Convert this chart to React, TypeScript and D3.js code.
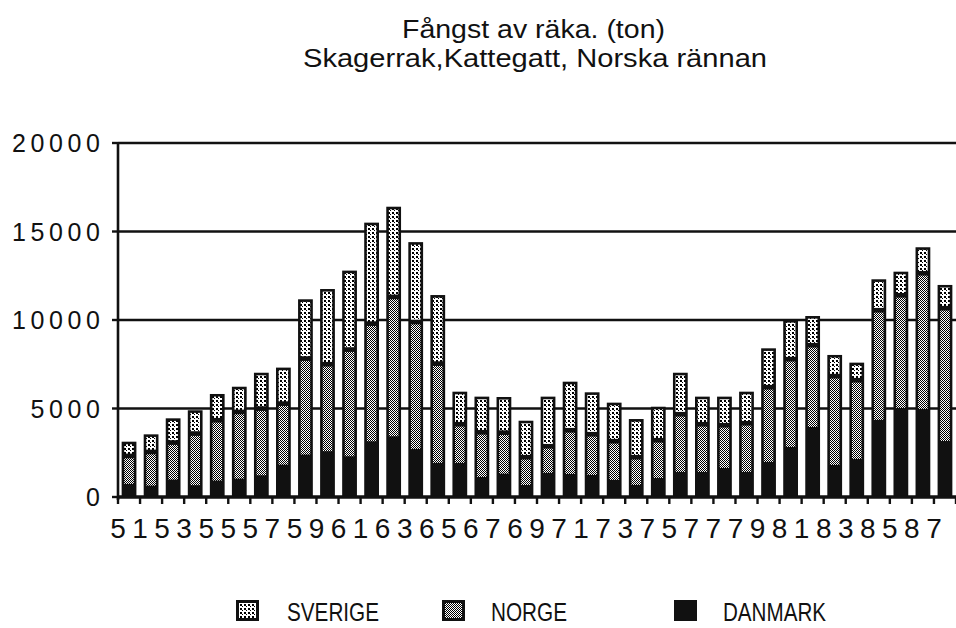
import React from "react";
import * as d3 from "d3";

const years = ["1951","1952","1953","1954","1955","1956","1957","1958","1959","1960","1961","1962","1963","1964","1965","1966","1967","1968","1969","1970","1971","1972","1973","1974","1975","1976","1977","1978","1979","1980","1981","1982","1983","1984","1985","1986","1987","1988"];
const danmark = [620, 525, 865, 550, 810, 920, 1110, 1710, 2280, 2470, 2185, 3030, 3315, 2600, 1810, 1810, 1015, 1200, 560, 1245, 1185, 1130, 850, 565, 960, 1300, 1300, 1525, 1300, 1865, 2710, 3840, 1695, 2035, 4240, 4915, 4860, 3050];
const norge = [1715, 2035, 2225, 3050, 3540, 3900, 3900, 3580, 5555, 5045, 6160, 6780, 8005, 7300, 5740, 2315, 2655, 2450, 1700, 1635, 2600, 2430, 2315, 1695, 2260, 3390, 2825, 2545, 2880, 4350, 5090, 4750, 5145, 4575, 6325, 6495, 7795, 7630];
const sverige = [790, 980, 1355, 1300, 1470, 1410, 2010, 2020, 3335, 4235, 4445, 5690, 5080, 4500, 3860, 1825, 2000, 2000, 2050, 2790, 2730, 2355, 2165, 2145, 1880, 2330, 1545, 1600, 1770, 2185, 2200, 1635, 1185, 980, 1735, 1320, 1455, 1300];
const xTickLabels = ["51","53","55","57","59","61","63","65","67","69","71","73","75","77","79","81","83","85","87"];
const yTicks = [0, 5000, 10000, 15000, 20000];
const titleLines = ["Fångst av räka. (ton)", "Skagerrak,Kattegatt, Norska rännan"];
const legendItems = [
  { key: "sverige", label: "SVERIGE" },
  { key: "norge", label: "NORGE" },
  { key: "danmark", label: "DANMARK" },
];

const FONT = "'Liberation Sans', Arial, Helvetica, sans-serif";

export default function App() {
  const W = 956, H = 628;
  const left = 118, right = 956, top = 143, bottom = 497;

  const x = d3.scaleBand<string>().domain(years).range([left, right]).paddingInner(0.33).paddingOuter(0.165);
  const y = d3.scaleLinear().domain([0, 20000]).range([bottom, top]);
  const bw = x.bandwidth();
  const step = x.step();

  const rows = years.map((yr, i) => ({ year: yr, danmark: danmark[i], norge: norge[i], sverige: sverige[i] }));
  const stack = d3.stack<any>().keys(["danmark", "norge", "sverige"]);
  const series = stack(rows);

  const inset = 2.6;
  const digitW = 0.556 * 28;
  const xls = step - digitW;

  const legendPos: Record<string, { bx: number; tx: number; tw: number }> = {
    sverige: { bx: 236, tx: 287, tw: 92 },
    norge: { bx: 442, tx: 491, tw: 76 },
    danmark: { bx: 674, tx: 723, tw: 103 },
  };

  return (
    <svg width={W} height={H} style={{ position: "absolute", left: 0, top: 0, display: "block", background: "#fff" }} fontFamily={FONT}>
      <defs>
        <pattern id="pat-sverige" width="4" height="4" patternUnits="userSpaceOnUse">
          <rect width="4" height="4" fill="#fff" />
          <rect x="0" y="0" width="2" height="2" fill="#000" />
          <rect x="2" y="2" width="1" height="1" fill="#000" />
        </pattern>
        <pattern id="pat-norge" width="2" height="2" patternUnits="userSpaceOnUse">
          <rect width="2" height="2" fill="#fff" />
          <rect x="0" y="0" width="1" height="1" fill="#000" />
          <rect x="1" y="1" width="1" height="1" fill="#000" />
        </pattern>
      </defs>
      <rect width={W} height={H} fill="#fff" />

      {/* title */}
      <text x={533.5} y={38} textAnchor="middle" fontSize={26} fill="#111" textLength={263} lengthAdjust="spacingAndGlyphs">{titleLines[0]}</text>
      <text x={535} y={66.5} textAnchor="middle" fontSize={26} fill="#111" textLength={464} lengthAdjust="spacingAndGlyphs">{titleLines[1]}</text>

      {/* gridlines */}
      {yTicks.filter((t) => t > 0).map((t) => (
        <line key={"g" + t} x1={left} x2={right} y1={y(t)} y2={y(t)} stroke="#111" strokeWidth={2.6} />
      ))}

      {/* y axis */}
      <line x1={left} x2={left} y1={top - 1} y2={bottom + 3} stroke="#111" strokeWidth={2.6} />
      {yTicks.map((t) => (
        <g key={"yt" + t}>
          <line x1={left - 6} x2={left} y1={y(t)} y2={y(t)} stroke="#111" strokeWidth={2.4} />
          <text x={100 + 4.6} y={y(t) + 9} textAnchor="end" fontSize={25} letterSpacing={4.6} fill="#111">{String(t)}</text>
        </g>
      ))}

      {/* bars */}
      {years.map((yr, i) => {
        const x0 = x(yr)!;
        const total = danmark[i] + norge[i] + sverige[i];
        return <rect key={"b" + yr} x={x0} y={y(total)} width={bw} height={bottom - y(total)} fill="#111" />;
      })}
      {series.filter((s) => s.key !== "danmark").map((s) => (
        <g key={s.key}>
          {s.map((d, i) => {
            const x0 = x(years[i])!;
            const yt = y(d[1]) + inset;
            const yb = y(d[0]) - inset * 0.8;
            const h = Math.max(0, yb - yt);
            return <rect key={i} x={x0 + inset} y={yt} width={Math.max(0, bw - 2 * inset)} height={h} fill={`url(#pat-${s.key})`} />;
          })}
        </g>
      ))}

      {/* x axis */}
      <line x1={left - 1} x2={right} y1={bottom} y2={bottom} stroke="#111" strokeWidth={3.4} />
      {d3.range(years.length + 1).map((k) => (
        <line key={"xt" + k} x1={left + k * step} x2={left + k * step} y1={bottom} y2={bottom + 7} stroke="#111" strokeWidth={2.4} />
      ))}
      {xTickLabels.map((lab) => {
        const yr = "19" + lab;
        const cx = x(yr)! + bw / 2;
        return (
          <text key={"xl" + lab} x={cx + xls / 2} y={538} textAnchor="middle" fontSize={28} letterSpacing={xls} fill="#111">{lab}</text>
        );
      })}

      {/* legend */}
      {legendItems.map((it) => {
        const p = legendPos[it.key];
        return (
          <g key={"lg" + it.key}>
            <rect x={p.bx} y={600} width={23} height={21} fill="#111" />
            {it.key !== "danmark" && (
              <rect x={p.bx + 3} y={603} width={17} height={15} fill={`url(#pat-${it.key})`} />
            )}
            <text x={p.tx} y={621} fontSize={26} fill="#111" textLength={p.tw} lengthAdjust="spacingAndGlyphs">{it.label}</text>
          </g>
        );
      })}
    </svg>
  );
}
